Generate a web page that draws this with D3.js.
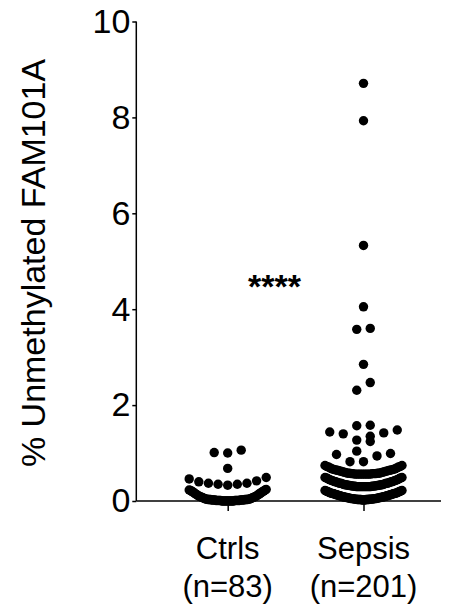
<!DOCTYPE html>
<html>
<head>
<meta charset="utf-8">
<script src="https://cdn.jsdelivr.net/npm/d3@7"></script>
<style>
  html, body { margin: 0; padding: 0; background: #fff; }
  svg { display: block; font-family: "Liberation Sans", Arial, Helvetica, sans-serif; }
</style>
</head>
<body>
<svg id="chart" width="457" height="606"></svg>
<script>
// ---------------- data ----------------
const categories = ["Ctrls", "Sepsis"];
const categoryCounts = ["(n=83)", "(n=201)"];
const yTicks = [0, 2, 4, 6, 8, 10];
const yLabel = "% Unmethylated FAM101A";
const significance = "****";

const ctrlsValues = [
  0,0,0,0,0,0,0,0,0,0,0,0,
  0.01,0.01,0.01,0.01,0.01,0.01,0.01,0.01,0.01,0.01,
  0.02,0.02,0.02,0.02,0.02,0.02,0.02,0.02,
  0.03,0.03,0.03,0.03,0.03,0.03,
  0.04,0.04,0.04,0.04,
  0.05,0.05,0.06,0.06,0.07,0.07,0.08,0.08,0.09,0.09,0.10,0.10,0.11,0.12,0.13,
  0.13,0.14,0.15,0.16,0.17,0.18,0.18,0.19,0.20,0.21,0.21,0.22,0.23,0.23,0.24,
  0.33,0.35,0.35,0.37,0.37,0.40,0.42,0.46,0.49,
  0.68,
  1.00,1.01,1.06
];

const sepsisValues = [
  0.02,0.02,0.02,0.02,0.03,0.03,0.03,0.03,0.03,0.03,0.03,0.04,
  0.04,0.04,0.04,0.04,0.04,0.04,0.05,0.05,
  0.05,0.05,0.05,0.05,0.06,0.06,
  0.06,0.06,0.07,0.07,0.07,0.07,
  0.08,0.08,0.08,0.08,0.09,0.09,0.09,0.09,
  0.10,0.10,0.11,0.11,0.11,0.11,0.12,0.12,0.13,0.13,0.13,0.13,
  0.14,0.14,0.15,0.15,0.16,0.16,0.16,0.16,0.17,0.17,0.18,0.18,
  0.19,0.19,0.20,0.20,0.21,0.21,0.22,0.22,
  0.30,0.30,0.30,0.30,0.30,0.30,0.30,0.30,0.30,0.30,
  0.30,0.30,0.31,0.31,0.31,0.31,0.31,0.31,
  0.32,0.32,0.32,0.32,0.33,0.33,0.33,0.33,0.34,0.34,0.34,0.34,
  0.35,0.35,0.36,0.36,0.37,0.37,0.37,0.37,0.38,0.38,0.39,0.39,
  0.40,0.40,0.41,0.41,0.42,0.42,0.43,0.43,0.44,0.44,0.45,0.45,
  0.47,0.47,0.48,0.48,0.49,0.49,
  0.56,0.56,0.56,0.56,0.56,0.56,0.56,0.56,0.56,0.56,0.57,
  0.57,0.57,0.57,0.57,0.58,0.58,0.58,0.58,0.59,0.59,0.60,0.60,
  0.61,0.61,0.62,0.62,0.63,0.63,0.64,0.64,0.65,0.65,0.66,0.66,
  0.67,0.67,0.69,0.69,0.71,0.71,0.72,0.72,0.74,0.74,
  0.82,0.82,0.94,0.97,0.99,1.04,1.24,1.27,1.35,1.40,1.42,1.44,1.48,
  1.57,1.58,2.31,2.47,2.85,3.58,3.60,4.05,5.33,7.93,8.71
];

const groups = [ctrlsValues, sepsisValues];

// ---------------- layout ----------------
const svg = d3.select("#chart");
const font = 33;
const x = d3.scalePoint().domain(categories).range([227.7, 363.5]);
const y = d3.scaleLinear().domain([0, 10]).range([501, 21.5]);
const axisX0 = 136.3, axisX1 = 441;
const r = 4.7;
const binSize = 0.25, maxSpacing = 13.5, maxWidth = 77;

// column scatter: values binned into rows, spread from the centre outwards
function scatterLayout(values, cx) {
  const out = [];
  const bins = d3.group(values, v => Math.floor(v / binSize + 1e-9));
  for (const [, vals] of bins) {
    const s = vals.slice().sort(d3.ascending);
    const n = s.length;
    const sp = n > 1 ? Math.min(maxSpacing, maxWidth / (n - 1)) : 0;
    s.forEach((v, k) => {
      let off;
      if (n % 2 === 1) {
        off = k === 0 ? 0 : (k % 2 === 1 ? -1 : 1) * Math.ceil(k / 2) * sp;
      } else {
        off = (k % 2 === 0 ? -1 : 1) * (Math.floor(k / 2) + 0.5) * sp;
      }
      out.push({ x: cx + off, y: y(v) });
    });
  }
  return out;
}

// y axis
const yAxis = d3.axisLeft(y).tickValues(yTicks).tickSize(4).tickPadding(2).tickFormat(d3.format("d"));
const gy = svg.append("g").attr("transform", `translate(${axisX0},0)`).call(yAxis);
gy.select(".domain").attr("stroke", "#000").attr("stroke-width", 1.5).attr("d", `M0,${y(10)}V${y(0)}`);
gy.selectAll(".tick line").attr("stroke", "#000").attr("stroke-width", 1.5);
gy.selectAll(".tick text").attr("fill", "#000").style("font-size", "34px").style("font-family", "'Liberation Sans', Arial, sans-serif");

// x axis
const xAxis = d3.axisBottom(x).tickSize(10).tickFormat("");
const gx = svg.append("g").attr("transform", `translate(0,${y(0)})`).call(xAxis);
gx.select(".domain").attr("stroke", "#000").attr("stroke-width", 1.5).attr("d", `M${axisX0},0H${axisX1}`);
gx.selectAll(".tick line").attr("stroke", "#000").attr("stroke-width", 1.5);

// category labels
const lab = svg.append("g").selectAll("text").data(categories).join("text")
  .attr("text-anchor", "middle")
  .attr("x", d => x(d))
  .attr("y", 559)
  .style("font-size", "31px")
  .attr("fill", "#000");
lab.append("tspan").attr("x", d => x(d)).text(d => d);
lab.append("tspan").attr("x", d => x(d)).attr("dy", 38).text((d, i) => categoryCounts[i]);

// y label
svg.append("text")
  .attr("transform", `translate(45,263) rotate(-90)`)
  .attr("text-anchor", "middle")
  .style("font-size", "34px")
  .attr("fill", "#000")
  .text(yLabel);

// significance
svg.append("text")
  .attr("x", 274.5).attr("y", 298)
  .attr("text-anchor", "middle")
  .style("font-size", "34px")
  .style("font-weight", "bold")
  .attr("fill", "#000")
  .text(significance);

// points
groups.forEach((vals, i) => {
  const pts = scatterLayout(vals, x(categories[i]));
  svg.append("g").selectAll("circle").data(pts).join("circle")
    .attr("cx", d => d.x).attr("cy", d => d.y).attr("r", r).attr("fill", "#000");
});
</script>
</body>
</html>
